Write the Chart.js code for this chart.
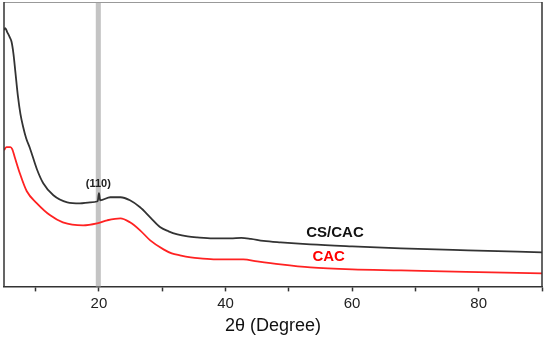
<!DOCTYPE html>
<html>
<head>
<meta charset="utf-8">
<script src="https://cdn.jsdelivr.net/npm/chart.js@4"></script>
<style>
    html, body { margin: 0; padding: 0; background: #fff; }
    #wrap { width: 550px; height: 337px; }
</style>
</head>
<body>
<div id="wrap"><canvas id="chart"></canvas></div>
<script>
// 2theta (degree) and intensity (a.u.)
let cscacTheta = [5.0, 5.2, 5.5, 5.9, 6.2, 6.5, 6.8, 7.2, 7.6, 8.0, 8.5, 9.1, 10.2, 11.2, 12.8, 15.0, 17.0, 18.6, 19.8, 20.0, 20.2, 21.8, 23.4, 24.9, 26.5, 28.1, 29.7, 31.0, 32.4, 34.0, 35.5, 38.0, 40.8, 42.5, 44.0, 46.0, 48.7, 53.4, 60.0, 67.7, 78.3, 90.0];
let cscacIntensity = [256, 258, 254, 249, 244, 232, 214, 190, 172, 160, 148, 138, 117, 103, 91, 84, 83, 84, 85, 93, 86, 89, 89, 86, 79, 69, 59, 55, 52, 50, 49, 48, 48, 48.5, 47.5, 45.5, 44, 42, 40, 38, 36, 34];

let cacTheta = [5.0, 5.4, 6.0, 6.3, 6.7, 7.5, 8.6, 10.2, 12.3, 14.3, 17.5, 19.7, 21.3, 23.4, 24.9, 26.5, 28.1, 30.2, 31.5, 32.8, 34.5, 36.0, 38.5, 40.8, 42.8, 45.0, 48.7, 53.4, 60.0, 67.7, 78.0, 90.0];
let cacIntensity = [136, 139, 139, 137, 129, 113, 95, 83, 71, 64, 61, 63, 66, 68, 64, 56, 46, 37, 33, 31, 29, 28, 27, 27, 27, 25, 22, 19, 17, 16, 14.5, 13];

let xTicks = [10, 20, 30, 40, 50, 60, 70, 80, 90];
let xTickLabels = [20, 40, 60, 80];
let bandRange = [19.5, 20.3];

// text labels: [text, theta, intensity, color, font size]
let peakLabels = [
    ["(110)", 19.9, 102, "#222222", 11],
    ["CS/CAC", 57.3, 53, "#111111", 15],
    ["CAC", 56.3, 29, "#ff0000", 15],
];

function to_points(xs, ys) {
    return xs.map((x, i) => ({x: x, y: ys[i]}));
}

let xrdDecor = {
    id: 'xrdDecor',
    beforeDatasetsDraw: (chart) => {
        const {ctx, chartArea, scales} = chart;
        let x0 = scales.x.getPixelForValue(bandRange[0]);
        let x1 = scales.x.getPixelForValue(bandRange[1]);
        ctx.save();
        ctx.fillStyle = '#c4c4c4';
        ctx.fillRect(x0, chartArea.top, x1 - x0, chartArea.bottom - chartArea.top);
        ctx.restore();
    },
    afterDraw: (chart) => {
        const {ctx, chartArea, scales} = chart;
        ctx.save();
        // frame
        ctx.lineWidth = 1;
        ctx.strokeStyle = '#999999';
        ctx.beginPath();
        ctx.moveTo(chartArea.left, chartArea.top + 0.5);
        ctx.lineTo(chartArea.right, chartArea.top + 0.5);
        ctx.stroke();
        ctx.lineWidth = 1.5;
        ctx.strokeStyle = '#333333';
        ctx.beginPath();
        ctx.moveTo(chartArea.left, chartArea.top);
        ctx.lineTo(chartArea.left, chartArea.bottom);
        ctx.moveTo(chartArea.right, chartArea.top);
        ctx.lineTo(chartArea.right, chartArea.bottom);
        ctx.stroke();
        // labels
        ctx.textAlign = 'center';
        ctx.textBaseline = 'middle';
        for (let i = 0; i < peakLabels.length; i++) {
            let [txt, tx, ty, col, size] = peakLabels[i];
            ctx.fillStyle = col;
            ctx.font = 'bold ' + size + 'px "Liberation Sans", Arial, sans-serif';
            ctx.fillText(txt, scales.x.getPixelForValue(tx), scales.y.getPixelForValue(ty));
        }
        ctx.restore();
    }
};

let options_xrd = {
    responsive: true,
    maintainAspectRatio: false,
    animation: false,
    layout: {
        padding: {left: 4, top: 2, right: 8, bottom: 0},
    },
    scales: {
        x: {
            type: 'linear',
            min: 5,
            max: 90,
            afterBuildTicks: (scale) => {
                scale.ticks = xTicks.map(v => ({value: v}));
            },
            ticks: {
                autoSkip: false,
                maxRotation: 0,
                padding: 3,
                color: '#222222',
                font: {size: 15, family: '"Liberation Sans", Arial, sans-serif'},
                callback: (v) => xTickLabels.includes(v) ? String(v) : '',
            },
            grid: {
                drawOnChartArea: false,
                drawTicks: true,
                tickLength: 5,
                color: '#333333',
                tickWidth: 1.5,
            },
            border: {
                display: true,
                color: '#333333',
                width: 1.5,
            },
            title: {
                display: true,
                text: '2θ (Degree)',
                color: '#111111',
                padding: {top: 0, bottom: 0},
                font: {size: 18, family: '"Liberation Sans", Arial, sans-serif'},
            },
        },
        y: {
            display: false,
            min: 0,
            max: 284,
        },
    },
    plugins: {
        legend: {display: false},
        tooltip: {enabled: false},
    },
};

new Chart(document.getElementById('chart'), {
    type: 'line',
    data: {
        datasets: [
            {
                label: 'CS/CAC',
                data: to_points(cscacTheta, cscacIntensity),
                borderColor: '#333333',
                borderWidth: 1.8,
                pointRadius: 0,
                cubicInterpolationMode: 'monotone',
            },
            {
                label: 'CAC',
                data: to_points(cacTheta, cacIntensity),
                borderColor: '#ff2222',
                borderWidth: 1.8,
                pointRadius: 0,
                cubicInterpolationMode: 'monotone',
            },
        ],
    },
    options: options_xrd,
    plugins: [xrdDecor],
});
</script>
</body>
</html>
